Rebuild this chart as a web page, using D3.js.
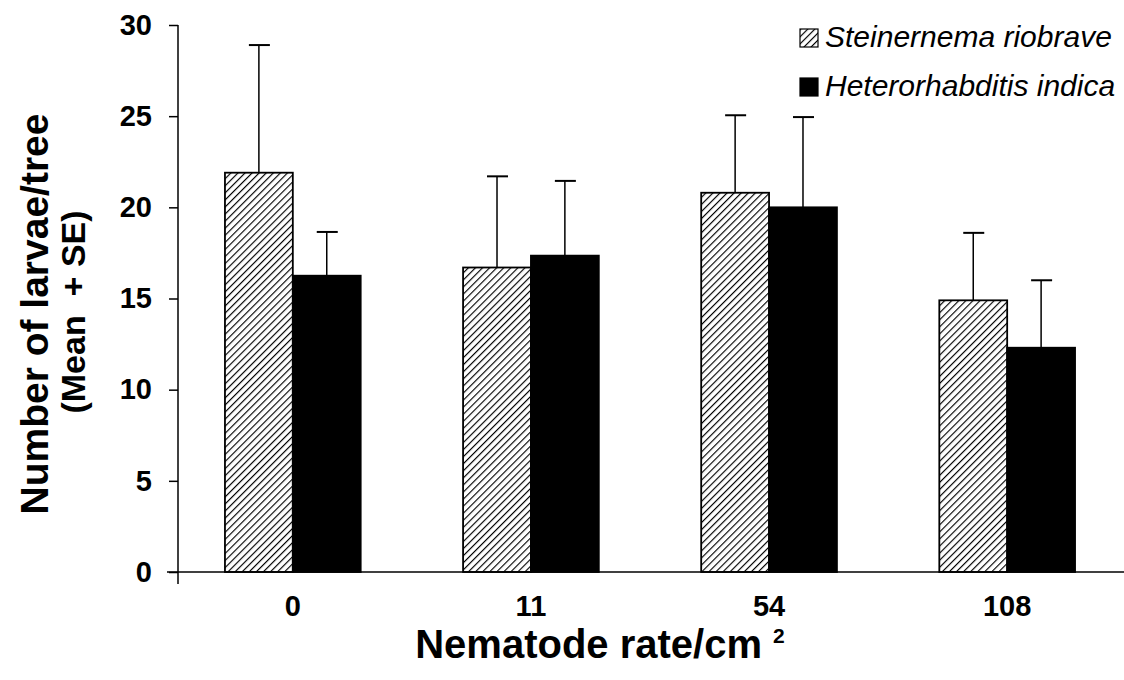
<!DOCTYPE html>
<html>
<head>
<meta charset="utf-8">
<script src="https://cdn.jsdelivr.net/npm/d3@7"></script>
<style>
  body { margin: 0; background: #fff; }
  svg { display: block; }
  text { font-family: 'Liberation Sans', Arial, sans-serif; fill: #000; }
</style>
</head>
<body>
<svg width="1124" height="680"></svg>
<script>
// data
const rates = ["0", "11", "54", "108"];
const seriesNames = ["Steinernema riobrave", "Heterorhabditis indica"];
const riobraveMean = [21.9, 16.7, 20.8, 14.9];
const riobraveSE = [7.0, 5.0, 4.25, 3.7];
const indicaMean = [16.25, 17.35, 20.0, 12.3];
const indicaSE = [2.4, 4.1, 4.95, 3.7];
const yTicks = [0, 5, 10, 15, 20, 25, 30];

const data = [];
rates.forEach((r, i) => {
  data.push({ rate: r, series: seriesNames[0], mean: riobraveMean[i], se: riobraveSE[i] });
  data.push({ rate: r, series: seriesNames[1], mean: indicaMean[i], se: indicaSE[i] });
});

const svg = d3.select('svg');
const font = "'Liberation Sans', Arial, sans-serif";

// hatch pattern for S. riobrave
const defs = svg.append('defs');
defs.append('pattern').
  attr('id', 'hatch').
  attr('patternUnits', 'userSpaceOnUse').
  attr('width', 5).
  attr('height', 5).
  attr('patternTransform', 'rotate(45)').
  call(p => {
    p.append('rect').attr('width', 5).attr('height', 5).attr('fill', '#fff');
    p.append('line').attr('x1', 0).attr('y1', 0).attr('x2', 0).attr('y2', 5).
      attr('stroke', '#000').attr('stroke-width', 2.3);
  });

const fills = { [seriesNames[0]]: 'url(#hatch)', [seriesNames[1]]: '#000' };

// scales
const x = d3.scaleBand().
  domain(rates).
  range([179, 1121]).
  paddingInner(0.43).
  paddingOuter(0.193);

const xs = d3.scaleBand().
  domain(seriesNames).
  range([0, x.bandwidth()]);

const y = d3.scaleLinear().
  domain([0, 30]).
  range([572, 25]);

// y axis
const yAxis = d3.axisLeft(y).
  tickValues(yTicks).
  tickSize(9).
  tickPadding(17);

const gy = svg.append('g').
  attr('class', 'axis y').
  attr('transform', 'translate(178,0)').
  call(yAxis);
gy.select('.domain').remove();
gy.selectAll('line').attr('stroke', '#000').attr('stroke-width', 1.5);
gy.selectAll('text').
  attr('font-size', 29).
  attr('font-weight', 'bold').
  attr('font-family', font);
gy.append('line').
  attr('x1', 0).attr('x2', 0).
  attr('y1', y(30)).attr('y2', y(0) + 12).
  attr('stroke', '#000').attr('stroke-width', 1.5);

// x axis
const xAxis = d3.axisBottom(x).
  tickSize(0).
  tickPadding(23);

const gx = svg.append('g').
  attr('class', 'axis x').
  attr('transform', `translate(0, ${y(0)})`).
  call(xAxis);
gx.select('.domain').remove();
gx.selectAll('text').
  attr('font-size', 29).
  attr('font-weight', 'bold').
  attr('font-family', font);

// bars
const bars = svg.append('g').attr('class', 'bar-container');
bars.selectAll('rect').
  data(data).
  enter().append('rect').
  attr('x', d => x(d.rate) + xs(d.series)).
  attr('y', d => y(d.mean)).
  attr('width', xs.bandwidth()).
  attr('height', d => y(0) - y(d.mean)).
  attr('fill', d => fills[d.series]).
  attr('stroke', '#000').
  attr('stroke-width', 1.8);

// error bars (mean + SE)
const err = svg.append('g').attr('class', 'errors');
err.selectAll('line.stem').
  data(data).
  enter().append('line').
  attr('class', 'stem').
  attr('x1', d => x(d.rate) + xs(d.series) + xs.bandwidth() / 2).
  attr('x2', d => x(d.rate) + xs(d.series) + xs.bandwidth() / 2).
  attr('y1', d => y(d.mean)).
  attr('y2', d => y(d.mean + d.se)).
  attr('stroke', '#000').
  attr('stroke-width', 1.5);
err.selectAll('line.cap').
  data(data).
  enter().append('line').
  attr('class', 'cap').
  attr('x1', d => x(d.rate) + xs(d.series) + xs.bandwidth() / 2 - 10).
  attr('x2', d => x(d.rate) + xs(d.series) + xs.bandwidth() / 2 + 11).
  attr('y1', d => y(d.mean + d.se)).
  attr('y2', d => y(d.mean + d.se)).
  attr('stroke', '#000').
  attr('stroke-width', 2);

// baseline
svg.append('line').
  attr('x1', 167).attr('x2', 1124).
  attr('y1', y(0)).attr('y2', y(0)).
  attr('stroke', '#000').attr('stroke-width', 1.5);

// axis titles
svg.append('text').
  attr('transform', 'translate(48, 314) rotate(-90)').
  attr('text-anchor', 'middle').
  attr('font-size', 39).
  attr('font-weight', 'bold').
  text('Number of larvae/tree');
svg.append('text').
  attr('transform', 'translate(85, 312) rotate(-90)').
  attr('text-anchor', 'middle').
  attr('font-size', 34).
  attr('font-weight', 'bold').
  attr('xml:space', 'preserve').
  style('white-space', 'pre').
  text('(Mean  + SE)');

const xt = svg.append('text').
  attr('x', 600).
  attr('y', 658).
  attr('text-anchor', 'middle').
  attr('font-size', 40).
  attr('font-weight', 'bold');
xt.append('tspan').text('Nematode rate/cm ');
xt.append('tspan').attr('font-size', 21).attr('dy', -15).text('2');

// legend
const legend = svg.append('g').attr('class', 'legend');
seriesNames.forEach((s, i) => {
  const g = legend.append('g').attr('transform', `translate(800, ${29 + i * 49})`);
  g.append('rect').
    attr('width', 18).attr('height', 18).
    attr('fill', fills[s]).
    attr('stroke', '#000').attr('stroke-width', 1.2);
  g.append('text').
    attr('x', 25).attr('y', 18).
    attr('font-size', 30).
    attr('font-style', 'italic').
    text(s);
});
</script>
</body>
</html>
